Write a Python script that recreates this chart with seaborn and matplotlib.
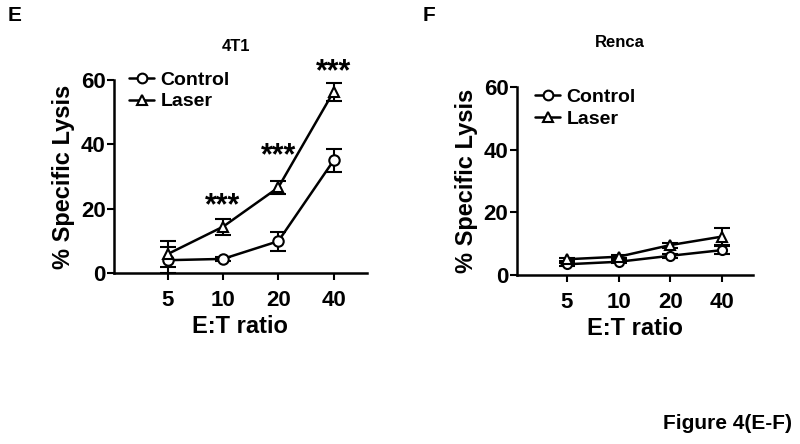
import numpy as np
import pandas as pd
import seaborn as sns
import matplotlib.pyplot as plt

sns.set_theme(style="ticks")
plt.rcParams['font.family'] = ['Liberation Sans', 'DejaVu Sans']
plt.rcParams['font.weight'] = 'bold'
for k in ['text.color', 'axes.labelcolor', 'xtick.color', 'ytick.color', 'axes.edgecolor']:
    plt.rcParams[k] = 'black'

ratios = ['5', '10', '20', '40']

# 4T1 panel
t1_control = [4.0, 4.4, 9.9, 35.0]
t1_control_err = [4.0, 0.5, 3.0, 3.5]
t1_laser = [5.9, 14.4, 26.6, 56.4]
t1_laser_err = [4.0, 2.5, 2.0, 2.8]
t1_stars_at = ['10', '20', '40']
t1_stars_y = [18.2, 33.7, 59.8]

# Renca panel
re_control = [3.5, 4.3, 6.2, 8.0]
re_control_err = [0.5, 0.5, 0.6, 1.2]
re_laser = [5.1, 5.9, 9.6, 12.3]
re_laser_err = [0.5, 0.5, 0.8, 2.8]

fig = plt.figure(figsize=(8, 4.44), dpi=100)
ax1 = fig.add_axes([0.1425, 0.385, 0.316, 0.4347])
ax2 = fig.add_axes([0.646, 0.38, 0.295, 0.4248])


def panel(ax, control, control_err, laser, laser_err, ms, cap):
    pos = np.arange(len(ratios))
    df = pd.DataFrame({
        'x': np.concatenate([pos, pos]),
        'y': control + laser,
        'group': ['Control'] * 4 + ['Laser'] * 4,
    })
    for y, e in [(control, control_err), (laser, laser_err)]:
        ax.errorbar(pos, y, yerr=e, fmt='none', ecolor='black',
                    elinewidth=1.5, capsize=cap, capthick=1.5, zorder=2)
    sns.lineplot(data=df, x='x', y='y', hue='group', style='group',
                 palette=['black', 'black'], markers=['o', '^'], dashes=False,
                 markersize=ms, markerfacecolor='white', markeredgecolor='black',
                 markeredgewidth=1.5, linewidth=1.8, ax=ax, zorder=3)
    ax.set_xlim(-0.97, 3.6)
    ax.set_ylim(0, 60)
    ax.set_xticks(pos)
    ax.set_xticklabels(ratios)
    ax.set_yticks([0, 20, 40, 60])
    ax.tick_params(axis='both', labelsize=16, width=1.5, length=5, color='black')
    ax.tick_params(axis='y', pad=1)
    ax.tick_params(axis='x', pad=7)
    for s in ['left', 'bottom']:
        ax.spines[s].set_linewidth(1.8)
    sns.despine(ax=ax)
    ax.set_xlabel('E:T ratio', fontsize=17, fontweight='bold', labelpad=3)
    ax.set_ylabel('% Specific Lysis', fontsize=17, fontweight='bold', labelpad=4)


def legend(ax, x, y, ms):
    leg = ax.legend(loc='upper left', bbox_to_anchor=(x, y), frameon=False,
                    fontsize=14, handlelength=1.3, handletextpad=0.3,
                    labelspacing=0.2, borderaxespad=0, borderpad=0)
    for h in leg.legend_handles:
        h.set_markersize(ms)
        h.set_markerfacecolor('white')
        h.set_markeredgecolor('black')
        h.set_markeredgewidth(1.5)
        h.set_linewidth(1.8)


panel(ax1, t1_control, t1_control_err, t1_laser, t1_laser_err, 7.5, 6)
panel(ax2, re_control, re_control_err, re_laser, re_laser_err, 6.5, 5.5)
legend(ax1, 0.06, 1.045, 7)
legend(ax2, 0.078, 0.99, 7)

ax1.text(0.482, 1.176, '4T1', transform=ax1.transAxes, ha='center', va='center',
         fontsize=12, fontweight='bold')
ax2.text(0.438, 1.233, 'Renca', transform=ax2.transAxes, ha='center', va='center',
         fontsize=12, fontweight='bold')

for r, y in zip(t1_stars_at, t1_stars_y):
    ax1.text(ratios.index(r), y, '***', ha='center', va='baseline',
             fontsize=22, fontweight='bold', clip_on=False)

fig.text(0.009, 0.965, 'E', fontsize=15, fontweight='bold', va='center')
fig.text(0.528, 0.965, 'F', fontsize=15, fontweight='bold', va='center')
fig.text(0.99, 0.047, 'Figure 4(E-F)', fontsize=15, fontweight='bold',
         ha='right', va='center')

fig.savefig('out.png', dpi=100)
